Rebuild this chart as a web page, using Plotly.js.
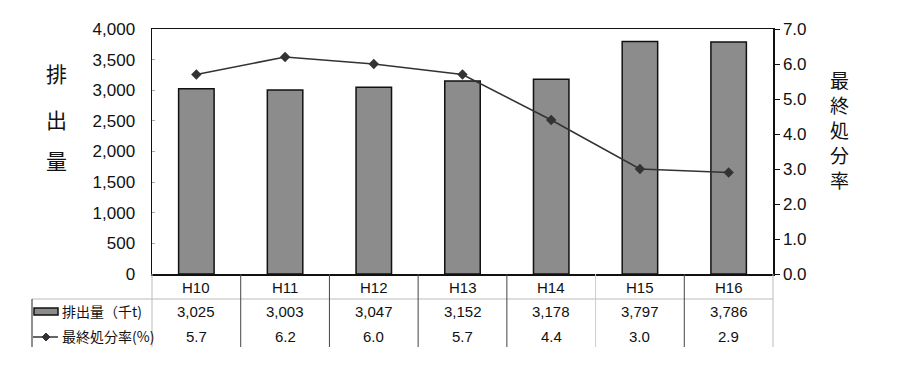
<!DOCTYPE html>
<html>
<head>
<meta charset="utf-8">
<script src="https://cdn.plot.ly/plotly-3.0.1.min.js"></script>
<style>html,body{margin:0;padding:0;background:#fff;}#chart{width:900px;height:367px;}</style>
</head>
<body>
<div id="chart"></div>
<script>
// ---- data ----
const categories = ['H10','H11','H12','H13','H14','H15','H16'];
const emissions = [3025, 3003, 3047, 3152, 3178, 3797, 3786];   // 排出量（千t）
const disposalRate = [5.7, 6.2, 6.0, 5.7, 4.4, 3.0, 2.9];       // 最終処分率(%)
const barLabel = '排出量（千t)';
const lineLabel = '最終処分率(%)';
const leftTitle = ['排','出','量'];
const rightTitle = ['最','終','処','分','率'];

// ---- layout geometry (pixels) ----
const W = 900, H = 367;
const L = 152, R = 773, T = 29, B = 274;
const pw = R - L, ph = B - T;
const px2x = p => (p - L) / pw;
const px2y = p => (B - p) / ph;

const jp = '"Noto Sans CJK JP", sans-serif';
const num = '"Liberation Sans", Arial, sans-serif';

const traces = [
  {
    type: 'bar', x: categories, y: emissions, name: barLabel,
    marker: {color: '#8c8c8c', line: {color: '#111', width: 1.5}},
    hoverinfo: 'skip'
  },
  {
    type: 'scatter', mode: 'lines+markers', x: categories, y: disposalRate, yaxis: 'y2', name: lineLabel,
    line: {color: '#333', width: 1.5},
    marker: {symbol: 'diamond', size: 8, color: '#333'},
    hoverinfo: 'skip'
  }
];

const annotations = [];
const shapes = [];

// table rows
const rowCat = 287, rowVal = 311, rowRate = 336;
categories.forEach((c, i) => {
  annotations.push({x: c, xref: 'x', y: px2y(rowCat), yref: 'paper', text: c, showarrow: false,
    font: {family: num, size: 15, color: '#111'}, xanchor: 'center', yanchor: 'middle'});
  annotations.push({x: c, xref: 'x', y: px2y(rowVal), yref: 'paper', text: emissions[i].toLocaleString('en-US'), showarrow: false,
    font: {family: num, size: 15, color: '#111'}, xanchor: 'center', yanchor: 'middle'});
  annotations.push({x: c, xref: 'x', y: px2y(rowRate), yref: 'paper', text: disposalRate[i].toFixed(1), showarrow: false,
    font: {family: num, size: 15, color: '#111'}, xanchor: 'center', yanchor: 'middle'});
});
// row labels
annotations.push({x: px2x(60), xref: 'paper', y: px2y(rowVal), yref: 'paper', text: barLabel, showarrow: false,
  font: {family: jp, size: 14, color: '#111'}, xanchor: 'left', yanchor: 'middle'});
annotations.push({x: px2x(60), xref: 'paper', y: px2y(rowRate), yref: 'paper', text: lineLabel, showarrow: false,
  font: {family: jp, size: 14, color: '#111'}, xanchor: 'left', yanchor: 'middle'});

// axis titles (stacked vertical characters)
const leftY = [73, 119, 160];
leftTitle.forEach((ch, i) => annotations.push({x: px2x(56), xref: 'paper', y: px2y(leftY[i]), yref: 'paper', text: ch,
  showarrow: false, font: {family: jp, size: 21, color: '#111'}, xanchor: 'center', yanchor: 'middle'}));
const rightY0 = 79, rightStep = 25.2;
rightTitle.forEach((ch, i) => annotations.push({x: px2x(839), xref: 'paper', y: px2y(rightY0 + i * rightStep), yref: 'paper', text: ch,
  showarrow: false, font: {family: jp, size: 19, color: '#111'}, xanchor: 'center', yanchor: 'middle'}));

// table lines
const tblMid = 299, tblBot = 347, tblLeft = 32;
shapes.push({type: 'line', xref: 'paper', yref: 'paper', x0: px2x(tblLeft), x1: px2x(R), y0: px2y(tblMid), y1: px2y(tblMid),
  line: {color: '#bbb', width: 1}});
shapes.push({type: 'line', xref: 'paper', yref: 'paper', x0: px2x(tblLeft), x1: px2x(tblLeft), y0: px2y(tblMid), y1: px2y(tblBot),
  line: {color: '#222', width: 1}});
shapes.push({type: 'line', xref: 'paper', yref: 'paper', x0: 0, x1: 0, y0: 0, y1: px2y(tblBot),
  line: {color: '#bbb', width: 1}});
shapes.push({type: 'line', xref: 'paper', yref: 'paper', x0: 1, x1: 1, y0: 0, y1: px2y(tblBot),
  line: {color: '#bbb', width: 1}});
for (let k = 1; k < categories.length; k++) {
  shapes.push({type: 'line', xref: 'x', yref: 'paper', x0: k - 0.5, x1: k - 0.5, y0: 0, y1: px2y(tblBot),
    line: {color: k === 5 ? '#ccc' : '#444', width: 1}});
}
// legend keys
shapes.push({type: 'rect', xref: 'paper', yref: 'paper', x0: px2x(34), x1: px2x(58), y0: px2y(308), y1: px2y(315),
  fillcolor: '#8c8c8c', line: {color: '#111', width: 1.5}});
shapes.push({type: 'line', xref: 'paper', yref: 'paper', x0: px2x(33), x1: px2x(58), y0: px2y(337), y1: px2y(337),
  line: {color: '#333', width: 1.5}});
shapes.push({type: 'path', xref: 'paper', yref: 'paper',
  path: `M ${px2x(42)} ${px2y(337)} L ${px2x(46)} ${px2y(333)} L ${px2x(50)} ${px2y(337)} L ${px2x(46)} ${px2y(341)} Z`,
  fillcolor: '#333', line: {color: '#333', width: 1}});

const layout = {
  width: W, height: H,
  margin: {l: L, r: W - R, t: T, b: H - B, pad: 0},
  paper_bgcolor: '#fff', plot_bgcolor: '#fff',
  showlegend: false,
  bargap: 0.6,
  xaxis: {
    type: 'category', range: [-0.5, 6.5], showticklabels: false, ticks: '',
    showline: true, mirror: true, linecolor: '#111', linewidth: 1.5, showgrid: false, zeroline: false, fixedrange: true
  },
  yaxis: {
    range: [0, 4000], dtick: 500, tickformat: ',', showgrid: false, zeroline: false,
    showline: true, linecolor: '#111', linewidth: 1.5,
    ticks: 'inside', ticklen: 3, tickcolor: '#aaa', ticklabelstandoff: 12,
    tickfont: {family: num, size: 17, color: '#111'}, fixedrange: true
  },
  yaxis2: {
    overlaying: 'y', side: 'right', range: [0, 7], dtick: 1, tickformat: '.1f',
    showgrid: false, zeroline: false, showline: true, linecolor: '#111', linewidth: 1.5,
    ticks: 'outside', ticklen: 5, tickcolor: '#111',
    tickfont: {family: num, size: 17, color: '#111'}, fixedrange: true
  },
  annotations: annotations,
  shapes: shapes
};

Plotly.newPlot('chart', traces, layout, {displayModeBar: false, staticPlot: true});
</script>
</body>
</html>
